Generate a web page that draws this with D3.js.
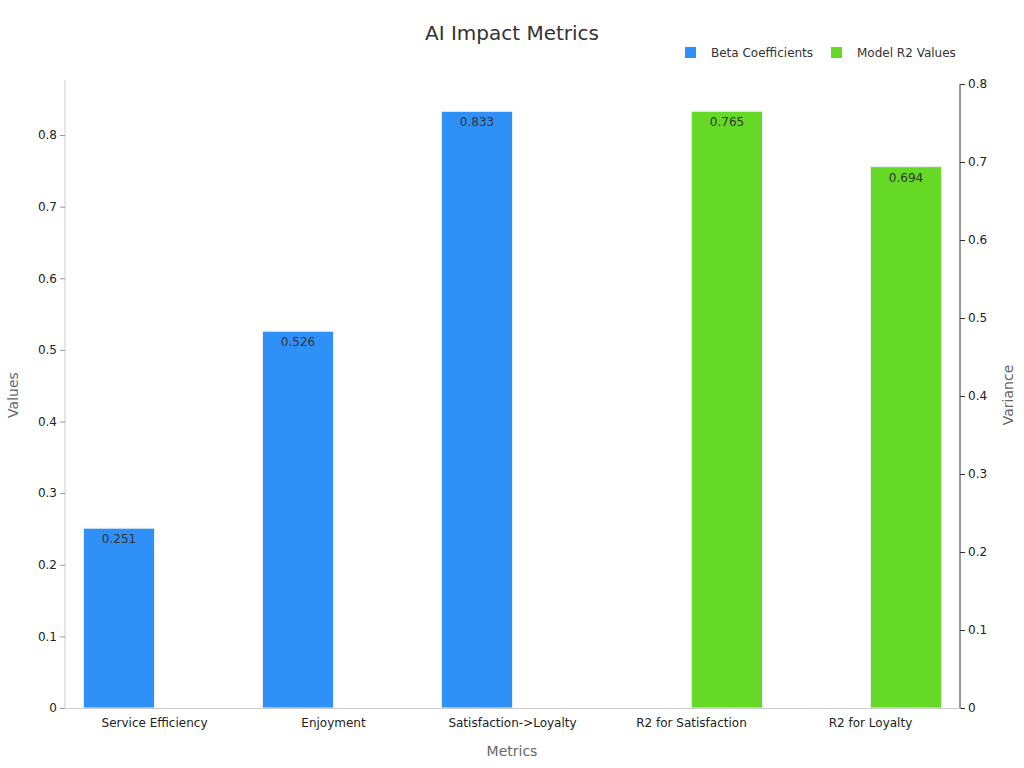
<!DOCTYPE html>
<html>
<head>
<meta charset="utf-8">
<script src="https://cdn.jsdelivr.net/npm/d3@7"></script>
<style>
body { margin: 0; background: #fff; font-family: "DejaVu Sans", sans-serif; }
</style>
</head>
<body>
<svg id="chart" width="1024" height="768"></svg>
<script>
const categories = ["Service Efficiency", "Enjoyment", "Satisfaction->Loyalty", "R2 for Satisfaction", "R2 for Loyalty"];
const betaValues = [0.251, 0.526, 0.833, null, null];
const r2Values = [null, null, null, 0.765, 0.694];
const leftTicks = [0, 0.1, 0.2, 0.3, 0.4, 0.5, 0.6, 0.7, 0.8];
const rightTicks = [0, 0.1, 0.2, 0.3, 0.4, 0.5, 0.6, 0.7, 0.8];

const svg = d3.select("#chart");
const plotLeft = 65, plotRight = 960, plotTop = 84, plotBottom = 708;

const x = d3.scaleBand().domain(categories).range([plotLeft, plotRight]);
// left axis: 0.8 sits lower than top, right axis tops out at 0.8
const yL = d3.scaleLinear().domain([0, 0.8 * (plotBottom - plotTop) / (plotBottom - 135)]).range([plotBottom, plotTop]);
const yR = d3.scaleLinear().domain([0, 0.8]).range([plotBottom, plotTop]);

const barW = 71;
const blue = "#2f91f7", green = "#66d926";

// title
svg.append("text").attr("x", 512).attr("y", 40).attr("text-anchor", "middle")
	.attr("font-size", 20).attr("fill", "#333").text("AI Impact Metrics");

// legend
const legend = [["Beta Coefficients", blue, 685], ["Model R2 Values", green, 831]];
legend.forEach(([t, c, lx]) => {
	svg.append("rect").attr("x", lx).attr("y", 47).attr("width", 11).attr("height", 11).attr("fill", c);
	svg.append("text").attr("x", lx + 26).attr("y", 57).attr("font-size", 12).attr("fill", "#333").text(t);
});

// bars
categories.forEach((c, i) => {
	const x0 = x(c), cx = x0 + x.bandwidth() / 2;
	if (betaValues[i] != null) {
		const v = betaValues[i];
		svg.append("rect").attr("x", cx - barW).attr("y", yL(v)).attr("width", barW)
			.attr("height", plotBottom - yL(v)).attr("fill", blue).attr("stroke", "#e8eef5").attr("stroke-width", 1);
		svg.append("text").attr("x", cx - barW / 2).attr("y", yL(v) + 15).attr("text-anchor", "middle")
			.attr("font-size", 12).attr("fill", "#333").text(v.toFixed(3));
	}
	if (r2Values[i] != null) {
		const v = r2Values[i];
		svg.append("rect").attr("x", cx).attr("y", yR(v)).attr("width", barW)
			.attr("height", plotBottom - yR(v)).attr("fill", green).attr("stroke", "#e8eef5").attr("stroke-width", 1);
		svg.append("text").attr("x", cx + barW / 2).attr("y", yR(v) + 15).attr("text-anchor", "middle")
			.attr("font-size", 12).attr("fill", "#333").text(v.toFixed(3));
	}
});

// left axis
const gL = svg.append("g").attr("transform", "translate(" + plotLeft + ",0)")
	.call(d3.axisLeft(yL).tickValues(leftTicks).tickFormat(d3.format("")).tickSize(5));
gL.select(".domain").attr("stroke", "#ccc").attr("d", "M0," + (plotTop - 4) + "V" + plotBottom);
gL.selectAll(".tick line").attr("stroke", "#999");
gL.selectAll("text").attr("font-size", 12).attr("fill", "#222").attr("font-family", "DejaVu Sans");

// right axis
const gR = svg.append("g").attr("transform", "translate(" + plotRight + ",0)")
	.call(d3.axisRight(yR).tickValues(rightTicks).tickFormat(d3.format("")).tickSize(5));
gR.select(".domain").attr("stroke", "#333").attr("d", "M0," + plotTop + "V" + plotBottom);
gR.selectAll(".tick line").attr("stroke", "#333");
gR.selectAll("text").attr("font-size", 12).attr("fill", "#222").attr("font-family", "DejaVu Sans");

// bottom axis
const gB = svg.append("g").attr("transform", "translate(0," + plotBottom + ")")
	.call(d3.axisBottom(x).tickSize(0).tickPadding(10));
gB.select(".domain").attr("stroke", "#ccc");
gB.selectAll("text").attr("font-size", 12).attr("fill", "#222").attr("font-family", "DejaVu Sans");

// axis names
svg.append("text").attr("transform", "translate(18,395) rotate(-90)").attr("text-anchor", "middle")
	.attr("font-size", 14).attr("fill", "#666").text("Values");
svg.append("text").attr("transform", "translate(1013,395) rotate(-90)").attr("text-anchor", "middle")
	.attr("font-size", 14).attr("fill", "#666").text("Variance");
svg.append("text").attr("x", 512).attr("y", 756).attr("text-anchor", "middle")
	.attr("font-size", 14).attr("fill", "#666").text("Metrics");
</script>
</body>
</html>
